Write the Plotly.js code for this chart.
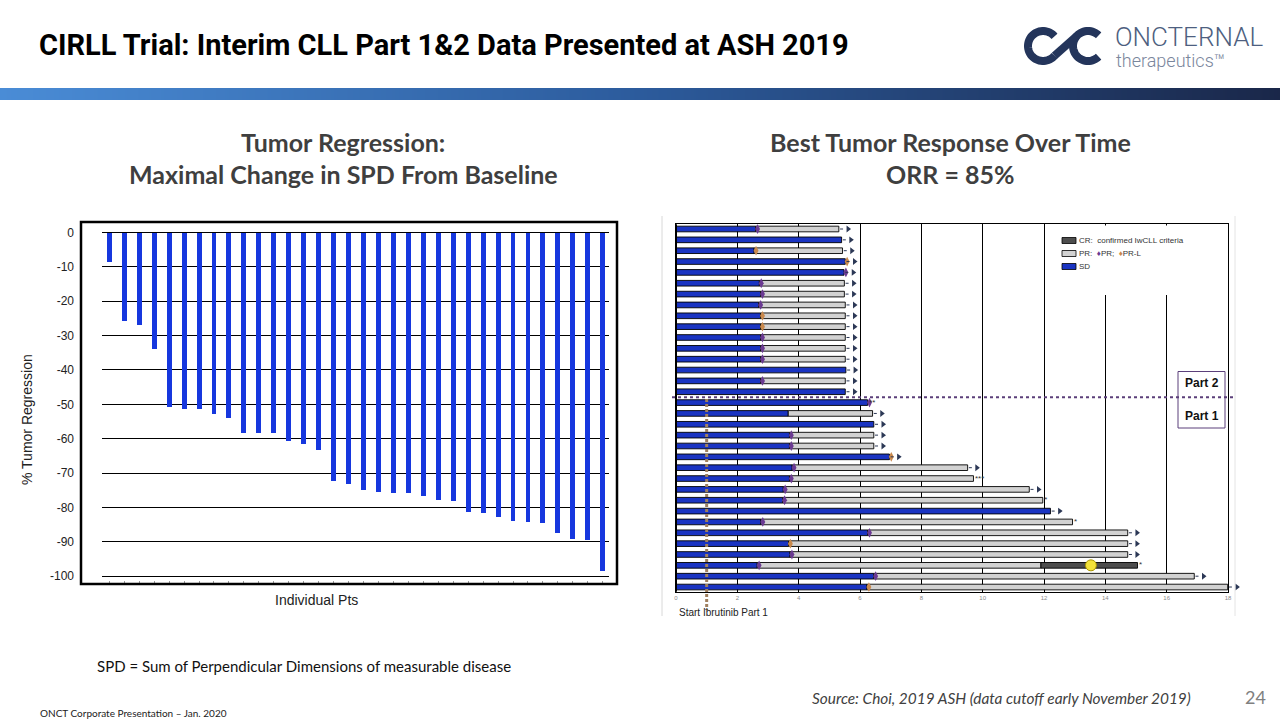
<!DOCTYPE html>
<html>
<head>
<meta charset="utf-8">
<script src="https://cdn.plot.ly/plotly-3.0.1.min.js"></script>
<style>html,body{margin:0;padding:0;background:#fff;}#chart{width:1280px;height:720px;}</style>
</head>
<body>
<div id="chart"></div>
<script>
// ---------- DATA ----------
// Left chart: maximal change in SPD from baseline (%), one bar per patient
const patients = [1,2,3,4,5,6,7,8,9,10,11,12,13,14,15,16,17,18,19,20,21,22,23,24,25,26,27,28,29,30,31,32,33,34];
const maxChangeSPD = [-8.5,-25.7,-26.9,-33.9,-50.7,-51.3,-51.3,-52.9,-53.9,-58.3,-58.3,-58.3,-60.6,-61.5,-63.2,-72.3,
  -73.1,-75.0,-75.5,-75.8,-75.8,-76.7,-77.9,-78.2,-81.3,-81.6,-82.7,-83.9,-84.2,-84.5,-87.4,-89.1,-89.4,-98.4];
const yTickVals = [0,-10,-20,-30,-40,-50,-60,-70,-80,-90,-100];
const yTickText = ["0","-10","-20","-30","-40","-50","-60","-70","-80","-90","-100"];

// Right chart: swimmer plot (months), rows 1-16 = Part 2, rows 17-34 = Part 1
const swimRows = [1,2,3,4,5,6,7,8,9,10,11,12,13,14,15,16,17,18,19,20,21,22,23,24,25,26,27,28,29,30,31,32,33,34];
const sdEnd = [2.60,5.40,2.55,5.52,5.48,2.72,2.76,2.70,2.76,2.76,2.76,2.76,2.76,5.54,2.76,5.52,
  6.25,3.66,6.45,3.70,3.70,6.96,3.79,3.70,3.50,3.48,12.21,2.77,6.25,3.67,3.72,2.65,6.45,6.23];
const prEnd = [5.31,null,5.43,null,null,5.49,5.49,5.52,5.52,5.52,5.52,5.52,5.52,null,5.52,null,
  null,6.41,null,6.45,6.45,null,9.51,9.70,11.52,11.96,null,12.93,14.73,14.73,14.73,11.90,16.90,17.99];
const respType = ["PR","","PR-L","PR-L","PR","PR","PR","PR","PR-L","PR-L","PR","PR","PR","","PR","",
  "PR","","","PR","PR","PR-L","PR","PR","PR","PR","","PR","PR","PR-L","PR","PR","PR","PR-L"];
const followStatus = [">",">",">",">",">",">",">",">",">",">",">",">",">",">",">",">",
  "**",">",">",">",">",">",">","***",">","*",">","*",">",">",">","*",">",">"];
const crRow = [32];
const crFrom = [11.90];
const crTo = [15.05];
const crMarkTime = [13.53];
const xMonthTicks = [0,2,4,6,8,10,12,14,16,18];
const ibrutinibStart = 1;

// ---------- helpers ----------
const W = 1280, H = 720;
const px = x => x / W;
const py = y => 1 - y / H;

const crEndByRow = {};
crRow.forEach((r,i)=>{crEndByRow[r]=crTo[i];});
const totalEnd = swimRows.map((r,i)=> crEndByRow[r] !== undefined ? crEndByRow[r] : (prEnd[i] !== null ? prEnd[i] : sdEnd[i]));

const BLUE_L = '#1637de';
const BLUE_R = '#1a34c2';
const PR_GRAY = '#d2d2d2';
const CR_GRAY = '#4d4d4d';
const PURPLE = '#6b3a92';
const ORANGE = '#c9894d';
const NAVY = '#2c3856';

// swimmer x axis geometry (pixels) and a wider twin axis for end-of-bar symbols
const SW_L = 676, SW_R = 1228, SW_R_EXT = 1252;
const SW_MAX = 18;
const SW_MAX_EXT = SW_MAX * (SW_R_EXT - SW_L) / (SW_R - SW_L);

const traces = [];

// Left bar chart
traces.push({
  type:'bar', x: patients, y: maxChangeSPD, xaxis:'x', yaxis:'y',
  width: 0.33, marker:{color: BLUE_L}, hoverinfo:'y', showlegend:false
});

// Swimmer: SD
traces.push({
  type:'bar', orientation:'h', x: sdEnd, y: swimRows, base: 0, xaxis:'x2', yaxis:'y2',
  width: 0.52, marker:{color: BLUE_R, line:{color:'#000', width:0.9}}, showlegend:false
});
// Swimmer: PR
const prRows=[], prLen=[], prBase=[];
swimRows.forEach((r,i)=>{ if(prEnd[i]!==null){ prRows.push(r); prBase.push(sdEnd[i]); prLen.push(prEnd[i]-sdEnd[i]); }});
traces.push({
  type:'bar', orientation:'h', x: prLen, y: prRows, base: prBase, xaxis:'x2', yaxis:'y2',
  width: 0.52, marker:{color: PR_GRAY, line:{color:'#000', width:0.9}}, showlegend:false
});
// Swimmer: CR
traces.push({
  type:'bar', orientation:'h', x: crRow.map((r,i)=>crTo[i]-crFrom[i]), y: crRow, base: crFrom, xaxis:'x2', yaxis:'y2',
  width: 0.52, marker:{color: CR_GRAY, line:{color:'#000', width:0.9}}, showlegend:false
});
// Response markers
['PR','PR-L'].forEach(t=>{
  const xs=[], ys=[];
  swimRows.forEach((r,i)=>{ if(respType[i]===t){ xs.push(sdEnd[i]+0.06); ys.push(r);} });
  traces.push({type:'scatter', mode:'markers', x:xs, y:ys, xaxis:'x2', yaxis:'y2',
    marker:{symbol:'diamond-tall', size:7, color: t==='PR'?PURPLE:ORANGE, line:{width:0}}, showlegend:false});
});
// CR marker
traces.push({type:'scatter', mode:'markers', x: crMarkTime, y: crRow, xaxis:'x2', yaxis:'y2',
  marker:{symbol:'circle', size:11, color:'#f3e23a', line:{color:'#a89400', width:1}}, showlegend:false});
// Ongoing arrows (on the wider twin axis so the last one can sit past the frame)
const arX=[], arY=[], dotX=[], dotY=[];
swimRows.forEach((r,i)=>{ if(followStatus[i]==='>'){ const e=totalEnd[i];
  arX.push(e+0.3); arY.push(r); dotX.push(e+0.04, e+0.22, null); dotY.push(r, r, null);} });
traces.push({type:'scatter', mode:'lines', x:dotX, y:dotY, xaxis:'x4', yaxis:'y2',
  line:{color:NAVY, width:1, dash:'dot'}, hoverinfo:'skip', showlegend:false});
traces.push({type:'scatter', mode:'markers', x:arX, y:arY, xaxis:'x4', yaxis:'y2',
  marker:{symbol:'triangle-right', size:6, color:NAVY}, showlegend:false});
// Asterisks
const asX=[], asY=[], asT=[];
swimRows.forEach((r,i)=>{ if(followStatus[i]!=='>'){ asX.push(totalEnd[i]+0.05); asY.push(r); asT.push(followStatus[i]); }});
traces.push({type:'scatter', mode:'text', x:asX, y:asY, text:asT, textposition:'middle right', xaxis:'x4', yaxis:'y2',
  textfont:{family:'Arial', size:8, color:'#333'}, showlegend:false});

// Header gradient band (decorative)
traces.push({type:'heatmap', z:[[0,0.5,1]], x:[0,0.5,1], y:[0], xaxis:'x3', yaxis:'y3', zsmooth:'best',
  colorscale:[[0,'#4a8cd6'],[0.5,'#2c5b9c'],[1,'#1a2749']], showscale:false, hoverinfo:'skip'});

// ---------- logo geometry ----------
function arcPath(cx, cy, r, a0, a1, n){
  // angles in screen degrees (0 = right, 90 = down)
  let d='';
  for(let k=0;k<=n;k++){
    const a=(a0+(a1-a0)*k/n)*Math.PI/180;
    const x=cx+r*Math.cos(a), y=cy+r*Math.sin(a);
    d += (k===0?'M':'L') + px(x).toFixed(5) + ',' + py(y).toFixed(5);
  }
  return d;
}
function pt(cx, cy, r, a){ const t=a*Math.PI/180; return [cx+r*Math.cos(t), cy+r*Math.sin(t)]; }
const logoC = '#24355b';
const LC=[1043,46], RC=[1088,46], LR=15;
const pA = pt(LC[0],LC[1],LR,40), pB = pt(RC[0],RC[1],LR,220);

const shapes = [
  // left chart frame
  {type:'rect', xref:'paper', yref:'paper', x0:px(81), x1:px(617), y0:py(584), y1:py(222), line:{color:'#000', width:2.5}},
  // right chart outer faint borders
  {type:'line', xref:'paper', yref:'paper', x0:px(662), x1:px(662), y0:py(216), y1:py(616), line:{color:'#d8d8d8', width:1}},
  {type:'line', xref:'paper', yref:'paper', x0:px(1235), x1:px(1235), y0:py(216), y1:py(616), line:{color:'#e4e4e4', width:1}},
  // thick left axis of swimmer plot
  {type:'line', xref:'paper', yref:'paper', x0:px(676), x1:px(676), y0:py(591.7), y1:py(224.3), line:{color:'#000', width:2}},
  // legend background
  {type:'rect', xref:'paper', yref:'paper', x0:px(1052), x1:px(1196), y0:py(295), y1:py(225.5), fillcolor:'#fff', line:{width:0}, layer:'above'},
  {type:'rect', xref:'paper', yref:'paper', x0:px(1062), x1:px(1076), y0:py(243.5), y1:py(237.5), fillcolor:CR_GRAY, line:{color:'#000', width:0.8}, layer:'above'},
  {type:'rect', xref:'paper', yref:'paper', x0:px(1062), x1:px(1076), y0:py(256.5), y1:py(250.5), fillcolor:PR_GRAY, line:{color:'#000', width:0.8}, layer:'above'},
  {type:'rect', xref:'paper', yref:'paper', x0:px(1062), x1:px(1076), y0:py(269.5), y1:py(263.5), fillcolor:BLUE_R, line:{color:'#000', width:0.8}, layer:'above'},
  // Part box
  {type:'rect', xref:'paper', yref:'paper', x0:px(1178), x1:px(1225), y0:py(428), y1:py(371.5), fillcolor:'#fff', line:{color:'#5b3f7a', width:1}, layer:'above'},
  // Part 2 / Part 1 separator
  {type:'line', xref:'paper', yref:'y2', x0:px(672), x1:px(1233), y0:16.5, y1:16.5, line:{color:'#5b3f7a', width:2, dash:'dot'}, layer:'above'},
  // start ibrutinib
  {type:'line', xref:'x2', yref:'paper', x0:ibrutinibStart, x1:ibrutinibStart, y0:py(399), y1:py(610), line:{color:'#a0805f', width:3, dash:'3px,2px'}, layer:'above'},
  // logo: left loop, right "C", diagonal link
  {type:'path', xref:'paper', yref:'paper', path: arcPath(LC[0],LC[1],LR,-40,-320,48), line:{color:logoC, width:8}},
  {type:'path', xref:'paper', yref:'paper', path: arcPath(RC[0],RC[1],LR,-45,-315,48), line:{color:logoC, width:8}},
  {type:'path', xref:'paper', yref:'paper', path: 'M'+px(pA[0]).toFixed(5)+','+py(pA[1]).toFixed(5)+'L'+px(pB[0]).toFixed(5)+','+py(pB[1]).toFixed(5), line:{color:logoC, width:8}}
];

const CAL = 'Lato, "Open Sans", Arial, sans-serif';
function ann(x, y, text, opts){
  return Object.assign({xref:'paper', yref:'paper', x:px(x), y:py(y), text:text, showarrow:false,
    xanchor:'left', yanchor:'middle'}, opts||{});
}
const annotations = [
  ann(37, 45, '<b>CIRLL Trial: Interim CLL Part 1&amp;2 Data Presented at ASH 2019</b>', {font:{family:'"Liberation Sans Narrow","Arial Narrow",Roboto,sans-serif', size:29, color:'#000'}}),
  ann(1113, 37, 'ONCTERNAL', {font:{family:'Roboto, sans-serif', size:26, color:'#4e5f80', weight:300}}),
  ann(1114, 60, 'therapeutics™', {font:{family:'Roboto, sans-serif', size:18, color:'#7a869c', weight:300}}),
  ann(343, 142, '<b>Tumor Regression:</b>', {xanchor:'center', font:{family:CAL, size:25, color:'#3f3f3f'}}),
  ann(343, 174, '<b>Maximal Change in SPD From Baseline</b>', {xanchor:'center', font:{family:CAL, size:25, color:'#3f3f3f'}}),
  ann(950, 142, '<b>Best Tumor Response Over Time</b>', {xanchor:'center', font:{family:CAL, size:25, color:'#3f3f3f'}}),
  ann(950, 174, '<b>ORR = 85%</b>', {xanchor:'center', font:{family:CAL, size:25, color:'#3f3f3f'}}),
  ann(27, 420, '% Tumor Regression', {xanchor:'center', textangle:-90, font:{family:'Arial, Liberation Sans', size:14, color:'#222'}}),
  ann(316, 600, 'Individual Pts', {xanchor:'center', font:{family:'Arial, Liberation Sans', size:14, color:'#222'}}),
  ann(677, 612, 'Start Ibrutinib Part 1', {font:{family:'Arial, Liberation Sans', size:10, color:'#222'}}),
  ann(1077, 240.5, 'CR:  confirmed IwCLL criteria', {font:{family:'Arial, Liberation Sans', size:8, color:'#333'}}),
  ann(1077, 253.5, 'PR:  <span style="color:'+PURPLE+'">♦</span>PR;  <span style="color:'+ORANGE+'">♦</span>PR-L', {font:{family:'Arial, Liberation Sans', size:8, color:'#333'}}),
  ann(1077, 266.5, 'SD', {font:{family:'Arial, Liberation Sans', size:8, color:'#333'}}),
  ann(1201.5, 383, '<b>Part 2</b>', {xanchor:'center', font:{family:'Arial, Liberation Sans', size:12, color:'#111'}}),
  ann(1201.5, 416, '<b>Part 1</b>', {xanchor:'center', font:{family:'Arial, Liberation Sans', size:12, color:'#111'}}),
  ann(95, 666, 'SPD = Sum of Perpendicular Dimensions of measurable disease', {font:{family:CAL, size:15, color:'#111'}}),
  ann(38, 713, 'ONCT Corporate Presentation – Jan. 2020', {font:{family:CAL, size:10, color:'#222'}}),
  ann(1193, 698, '<i>Source: Choi, 2019 ASH (data cutoff early November 2019)</i>', {xanchor:'right', font:{family:CAL, size:15.4, color:'#404040'}}),
  ann(1268, 697, '24', {xanchor:'right', font:{family:CAL, size:18, color:'#808080'}})
];

const layout = {
  width: W, height: H, margin:{l:0, r:0, t:0, b:0}, paper_bgcolor:'#fff', plot_bgcolor:'rgba(0,0,0,0)',
  showlegend:false, barmode:'overlay', bargap:0,
  xaxis:{domain:[px(102), px(609)], range:[0.51, 34.42], showgrid:false, zeroline:false, showline:false,
    tickvals: patients, ticks:'inside', ticklen:3, tickcolor:'#9a9a9a', showticklabels:false, fixedrange:true},
  yaxis:{domain:[py(584), py(222)], range:[-102.3, 3.06], tickvals:yTickVals, ticktext:yTickText,
    showgrid:true, gridcolor:'#000', gridwidth:1, zeroline:false, showline:false, ticks:'',
    ticklabelstandoff:27, tickfont:{family:'Arial, Liberation Sans', size:12, color:'#222'}, fixedrange:true},
  xaxis2:{domain:[px(SW_L), px(SW_R)], range:[0,SW_MAX], tickvals:xMonthTicks, showgrid:true, gridcolor:'#000', gridwidth:1,
    zeroline:false, showline:true, mirror:true, linecolor:'#000', linewidth:1, ticks:'',
    tickfont:{family:'Arial, Liberation Sans', size:6, color:'#8a8a8a'}, anchor:'y2', fixedrange:true},
  xaxis4:{domain:[px(SW_L), px(SW_R_EXT)], range:[0,SW_MAX_EXT], visible:false, showgrid:false, zeroline:false, anchor:'y2', fixedrange:true},
  yaxis2:{domain:[py(591.7), py(224.3)], range:[34.43, 0.567], showgrid:false, zeroline:false, showline:true, mirror:true,
    linecolor:'#000', linewidth:1, showticklabels:false, ticks:'', anchor:'x2', fixedrange:true},
  xaxis3:{domain:[0,1], range:[0,1], visible:false, anchor:'y3', fixedrange:true},
  yaxis3:{domain:[py(100), py(88)], range:[-0.5,0.5], visible:false, anchor:'x3', fixedrange:true},
  shapes: shapes,
  annotations: annotations
};

Plotly.newPlot('chart', traces, layout, {displayModeBar:false, staticPlot:true});
</script>
</body>
</html>
